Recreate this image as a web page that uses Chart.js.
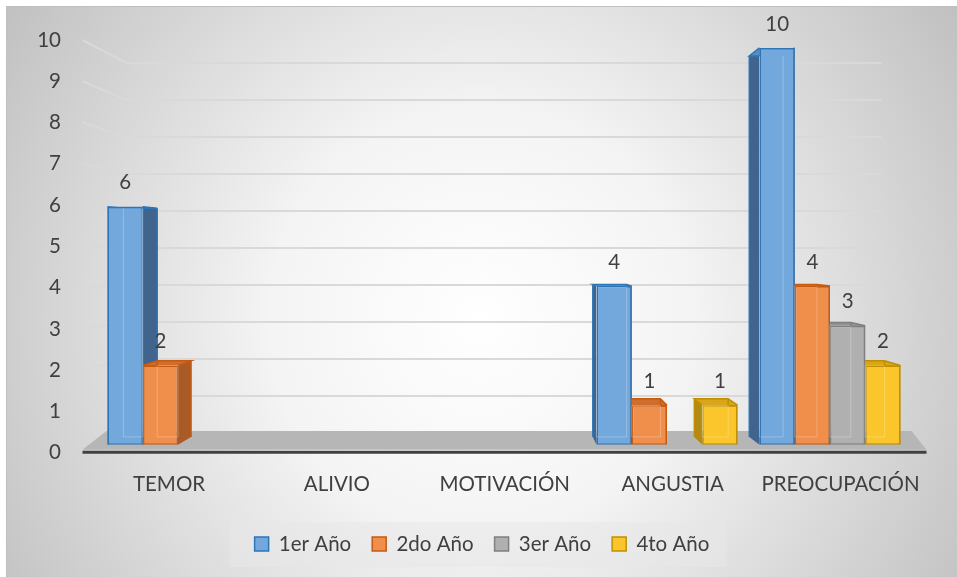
<!DOCTYPE html>
<html>
<head>
<meta charset="utf-8">
<script src="https://cdn.jsdelivr.net/npm/chart.js@4"></script>
<style>
  html, body { margin: 0; padding: 0; background: #fff; }
  canvas { display: block; }
</style>
</head>
<body>
<canvas id="chart" width="957" height="577"></canvas>
<script>
// Data
const categories = ['TEMOR', 'ALIVIO', 'MOTIVACIÓN', 'ANGUSTIA', 'PREOCUPACIÓN'];
const seriesNames = ['1er Año', '2do Año', '3er Año', '4to Año'];
const primerAno = [6, 0, 0, 4, 10];
const segundoAno = [2, 0, 0, 1, 4];
const tercerAno = [0, 0, 0, 0, 3];
const cuartoAno = [0, 0, 0, 1, 2];
const yTickMin = 0;
const yTickMax = 10;
const yTickStep = 1;

// Styles
const FONT = 'Lato, "Open Sans", sans-serif';
const FONT_SIZE = 20.5;
const TEXT = '#404040';
const fronts = ['#72a8dc', '#f08e4c', '#b0b0b0', '#fbc52c'];
const borders = ['#2e75b6', '#c55a11', '#7f7f7f', '#bf9000'];
const sides = ['#41648c', '#a95a26', '#858585', '#b38a14'];
const tops = ['#5a8cc0', '#cf6d2c', '#929292', '#d9a61a'];

// Push a point toward a vanishing point (fake 3D depth)
function toBack(p, v, k) {
  return { x: p.x + (v.x - p.x) * k, y: p.y + (v.y - p.y) * k };
}

function poly(ctx, pts, fill) {
  ctx.beginPath();
  ctx.moveTo(pts[0].x, pts[0].y);
  for (let i = 1; i < pts.length; i++) ctx.lineTo(pts[i].x, pts[i].y);
  ctx.closePath();
  ctx.fillStyle = fill;
  ctx.fill();
}

const scene3d = {
  id: 'scene3d',
  beforeDraw(chart) {
    const ctx = chart.ctx;
    ctx.save();
    const g = ctx.createRadialGradient(480, 320, 0, 480, 320, 600);
    g.addColorStop(0, '#ffffff');
    g.addColorStop(0.35, '#f4f4f4');
    g.addColorStop(1, '#bcbcbc');
    ctx.fillStyle = g;
    ctx.fillRect(6, 6, chart.width, chart.height);
    ctx.strokeStyle = '#bfbfbf';
    ctx.lineWidth = 1;
    ctx.strokeRect(6.5, 6.5, chart.width + 10, chart.height + 10);

    // legend backdrop
    const boxes = chart.legend.legendHitBoxes;
    if (boxes && boxes.length) {
      const first = boxes[0], last = boxes[boxes.length - 1];
      const cy = first.top + first.height / 2;
      ctx.fillStyle = 'rgba(232,232,232,0.55)';
      ctx.fillRect(first.left - 25, cy - 22, last.left + last.width - first.left + 42, 45);
    }
    ctx.restore();
  },
  beforeDatasetsDraw(chart) {
    const ctx = chart.ctx;
    const area = chart.chartArea;
    const y = chart.scales.y;
    const yl = chart.scales.yl;
    const base = y.getPixelForValue(0);
    const wallV = { x: (area.left + area.right) / 2, y: y.getPixelForValue(4.4) };
    ctx.save();

    // back wall + side wall gridlines
    ctx.strokeStyle = '#d9d9d9';
    ctx.lineWidth = 2;
    for (let v = yTickMin + yTickStep; v <= yTickMax; v += yTickStep) {
      const yb = toBack({ x: 0, y: y.getPixelForValue(v) }, wallV, 0.068).y;
      ctx.beginPath();
      ctx.moveTo(area.left - 14, yl.getPixelForValue(v));
      ctx.lineTo(area.left + 30, yb);
      ctx.lineTo(area.right - 30, yb);
      ctx.stroke();
    }

    // floor
    const floorBack = toBack({ x: 0, y: base }, wallV, 0.068).y;
    poly(ctx, [
      { x: area.left - 14, y: base + 5 },
      { x: area.left + 10, y: floorBack - 2 },
      { x: area.right, y: floorBack - 2 },
      { x: area.right + 15, y: base + 5 }
    ], '#b6b6b6');
    ctx.strokeStyle = '#404040';
    ctx.lineWidth = 3;
    ctx.beginPath();
    ctx.moveTo(area.left - 14, base + 7.5);
    ctx.lineTo(area.right + 15, base + 7.5);
    ctx.stroke();

    // bar sides and tops (fronts are drawn by Chart.js on top)
    const V = { x: (area.left + area.right) / 2, y: (area.top + area.bottom) / 2 };
    chart.data.datasets.forEach((ds, di) => {
      chart.getDatasetMeta(di).data.forEach((el, i) => {
        if (!ds.data[i]) return;
        const p = el.getProps(['x', 'y', 'base', 'width'], true);
        const l = p.x - p.width / 2, r = p.x + p.width / 2;
        const fTL = { x: l, y: p.y }, fTR = { x: r, y: p.y };
        const fBL = { x: l, y: p.base }, fBR = { x: r, y: p.base };
        const bTL = toBack(fTL, V, 0.04), bTR = toBack(fTR, V, 0.04);
        const bBL = toBack(fBL, V, 0.04), bBR = toBack(fBR, V, 0.04);
        poly(ctx, [fTR, bTR, bBR, fBR], sides[di]);
        poly(ctx, [fTL, bTL, bBL, fBL], sides[di]);
        poly(ctx, [fTL, fTR, bTR, bTL], tops[di]);
        ctx.strokeStyle = borders[di];
        ctx.lineWidth = 1.5;
        ctx.beginPath();
        ctx.moveTo(fTL.x, fTL.y); ctx.lineTo(bTL.x, bTL.y); ctx.lineTo(bTR.x, bTR.y); ctx.lineTo(fTR.x, fTR.y);
        ctx.moveTo(bTR.x, bTR.y); ctx.lineTo(bBR.x, bBR.y);
        ctx.moveTo(bTL.x, bTL.y); ctx.lineTo(bBL.x, bBL.y);
        ctx.stroke();
      });
    });
    ctx.restore();
  },
  afterDatasetsDraw(chart) {
    const ctx = chart.ctx;
    const area = chart.chartArea;
    const V = { x: (area.left + area.right) / 2, y: (area.top + area.bottom) / 2 };
    ctx.save();
    chart.data.datasets.forEach((ds, di) => {
      chart.getDatasetMeta(di).data.forEach((el, i) => {
        if (!ds.data[i]) return;
        const p = el.getProps(['x', 'y', 'base', 'width'], true);
        const l = p.x - p.width / 2, r = p.x + p.width / 2;
        // hidden back edges seen through the glassy front
        const bTL = toBack({ x: l, y: p.y }, V, 0.04), bTR = toBack({ x: r, y: p.y }, V, 0.04);
        const bBL = toBack({ x: l, y: p.base }, V, 0.04), bBR = toBack({ x: r, y: p.base }, V, 0.04);
        ctx.strokeStyle = 'rgba(255,255,255,0.25)';
        ctx.lineWidth = 1;
        ctx.beginPath();
        ctx.moveTo(Math.max(l, Math.min(r, bTL.x)), Math.max(p.y, bTL.y));
        ctx.lineTo(Math.max(l, Math.min(r, bBL.x)), Math.min(p.base, bBL.y));
        ctx.lineTo(Math.max(l, Math.min(r, bBR.x)), Math.min(p.base, bBR.y));
        ctx.lineTo(Math.max(l, Math.min(r, bTR.x)), Math.max(p.y, bTR.y));
        ctx.stroke();
        // value label
        ctx.fillStyle = TEXT;
        ctx.font = FONT_SIZE + 'px ' + FONT;
        ctx.textAlign = 'center';
        ctx.textBaseline = 'middle';
        ctx.fillText(String(ds.data[i]), p.x, p.y - 24);
      });
    });
    ctx.restore();
  }
};

function makeDataset(label, data, idx) {
  return {
    label,
    data,
    backgroundColor: fronts[idx],
    borderColor: borders[idx],
    borderWidth: 1.5,
    borderSkipped: false,
    inflateAmount: 0,
    yAxisID: 'y'
  };
}

new Chart(document.getElementById('chart'), {
  type: 'bar',
  data: {
    labels: categories,
    datasets: [
      makeDataset(seriesNames[0], primerAno, 0),
      makeDataset(seriesNames[1], segundoAno, 1),
      makeDataset(seriesNames[2], tercerAno, 2),
      makeDataset(seriesNames[3], cuartoAno, 3)
    ]
  },
  options: {
    responsive: false,
    animation: false,
    devicePixelRatio: 1,
    layout: { padding: { left: 36, right: 29, top: 40, bottom: 12.7 } },
    datasets: { bar: { categoryPercentage: 0.865, barPercentage: 1 } },
    plugins: {
      legend: {
        position: 'bottom',
        labels: { boxWidth: 14, boxHeight: 14, padding: 21, color: TEXT, font: { family: FONT, size: FONT_SIZE } }
      },
      tooltip: { enabled: false }
    },
    scales: {
      x: { display: false },
      // category labels sit on the front edge of the 3D floor, a bit wider than the bars
      xl: {
        type: 'linear',
        axis: 'x',
        position: 'bottom',
        offset: false,
        min: -0.432,
        max: 4.423,
        afterBuildTicks: (axis) => {
          axis.ticks = categories.map((c, i) => ({ value: i }));
        },
        ticks: {
          padding: 0,
          color: TEXT,
          font: { family: FONT, size: FONT_SIZE },
          maxRotation: 0,
          autoSkip: false,
          callback: (v) => categories[v]
        },
        grid: { display: false, offset: false, drawTicks: true, tickLength: 19 },
        border: { display: false },
        afterFit: (axis) => { axis.height = 60; }
      },
      // bar value axis, kept invisible; its box only reserves the right margin
      y: {
        position: 'right',
        min: -0.2,
        max: 10.2,
        ticks: { display: false },
        grid: { display: false, drawTicks: false },
        border: { display: false },
        afterFit: (axis) => { axis.width = 16.5; }
      },
      yl: {
        type: 'linear',
        axis: 'y',
        position: 'left',
        min: yTickMin,
        max: yTickMax,
        ticks: { stepSize: yTickStep, padding: 2.5, color: TEXT, font: { family: FONT, size: FONT_SIZE } },
        grid: { display: false, drawTicks: true, tickLength: 33 },
        border: { display: false },
        afterFit: (axis) => { axis.width = 60.5; }
      }
    }
  },
  plugins: [scene3d]
});
</script>
</body>
</html>
